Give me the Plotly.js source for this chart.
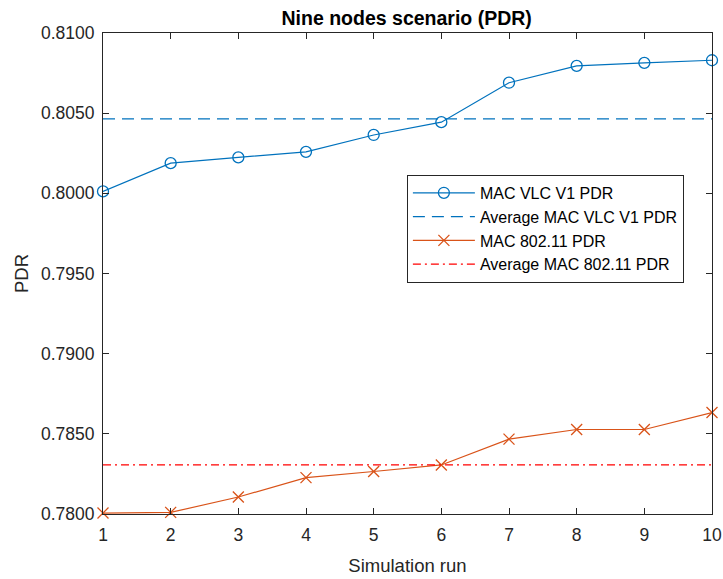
<!DOCTYPE html>
<html>
<head>
<meta charset="utf-8">
<script src="https://cdn.plot.ly/plotly-3.0.1.min.js"></script>
<style>html,body{margin:0;padding:0;background:#fff;}#chart{width:723px;height:579px;}</style>
</head>
<body>
<div id="chart"></div>
<script>
// Data
const runs = [1, 2, 3, 4, 5, 6, 7, 8, 9, 10];
const vlcPdr = [0.80012, 0.80188, 0.80224, 0.80259, 0.80364, 0.80444, 0.80690, 0.80795, 0.80814, 0.80830];
const wifiPdr = [0.78006, 0.78010, 0.78106, 0.78227, 0.78265, 0.78306, 0.78467, 0.78527, 0.78527, 0.78633];
const vlcAvg = 0.80464;
const wifiAvg = 0.78307;
const seriesNames = ['MAC VLC V1 PDR', 'Average MAC VLC V1 PDR', 'MAC 802.11 PDR', 'Average MAC 802.11 PDR'];
const yTicks = [0.7800, 0.7850, 0.7900, 0.7950, 0.8000, 0.8050, 0.8100];

const xEnds = [runs[0], runs[runs.length - 1]];
const font = 'Liberation Sans, Arial, sans-serif';
const axisCol = '#262626';

const traces = [
  {x: runs, y: vlcPdr, name: seriesNames[0], type: 'scatter', mode: 'lines+markers',
   line: {color: '#0072BD', width: 1.2},
   marker: {symbol: 'circle-open', size: 11, color: '#0072BD', line: {width: 1.3}},
   cliponaxis: false},
  {x: xEnds, y: [vlcAvg, vlcAvg], name: seriesNames[1], type: 'scatter', mode: 'lines',
   line: {color: '#0072BD', width: 1.3, dash: '12px,7px'}, cliponaxis: false},
  {x: runs, y: wifiPdr, name: seriesNames[2], type: 'scatter', mode: 'lines+markers',
   line: {color: '#D95319', width: 1.2},
   marker: {symbol: 'x-thin-open', size: 11, color: '#D95319', line: {width: 1.3, color: '#D95319'}},
   cliponaxis: false},
  {x: xEnds, y: [wifiAvg, wifiAvg], name: seriesNames[3], type: 'scatter', mode: 'lines',
   line: {color: '#FF0000', width: 1.2, dash: '8px,4px,2px,4px'}, cliponaxis: false}
];

const layout = {
  width: 723, height: 579,
  margin: {l: 103, r: 11, t: 33, b: 65, pad: 0},
  paper_bgcolor: '#ffffff', plot_bgcolor: '#ffffff',
  font: {family: font, color: axisCol, size: 17.5},
  title: {text: '<b>Nine nodes scenario (PDR)</b>', font: {family: font, size: 19.5, color: '#000'},
          x: 0.5625, xanchor: 'center', y: 0.969, yanchor: 'middle'},
  showlegend: true,
  legend: {x: 0.499, y: 0.705, xanchor: 'left', yanchor: 'top',
           bgcolor: '#ffffff', bordercolor: axisCol, borderwidth: 1,
           font: {family: font, size: 16, color: '#000'},
           tracegroupgap: 0, itemwidth: 62},
  xaxis: {range: [1, 10], tickvals: runs, ticktext: runs.map(String),
          showgrid: false, zeroline: false, showline: true, mirror: 'ticks',
          linecolor: axisCol, linewidth: 1, ticks: 'inside', ticklen: 6, tickcolor: axisCol,
          ticklabelstandoff: 5,
          tickfont: {family: font, size: 17.5, color: axisCol},
          title: {text: 'Simulation run', font: {family: font, size: 18.5, color: axisCol}, standoff: 15}},
  yaxis: {range: [0.78, 0.81], tickvals: yTicks, tickformat: '.4f',
          showgrid: false, zeroline: false, showline: true, mirror: 'ticks',
          linecolor: axisCol, linewidth: 1, ticks: 'inside', ticklen: 6, tickcolor: axisCol,
          ticklabelstandoff: 4,
          tickfont: {family: font, size: 17.5, color: axisCol},
          title: {text: 'PDR', font: {family: font, size: 18.5, color: axisCol}, standoff: 7}}
};

Plotly.newPlot('chart', traces, layout, {displayModeBar: false, staticPlot: true});
</script>
</body>
</html>
